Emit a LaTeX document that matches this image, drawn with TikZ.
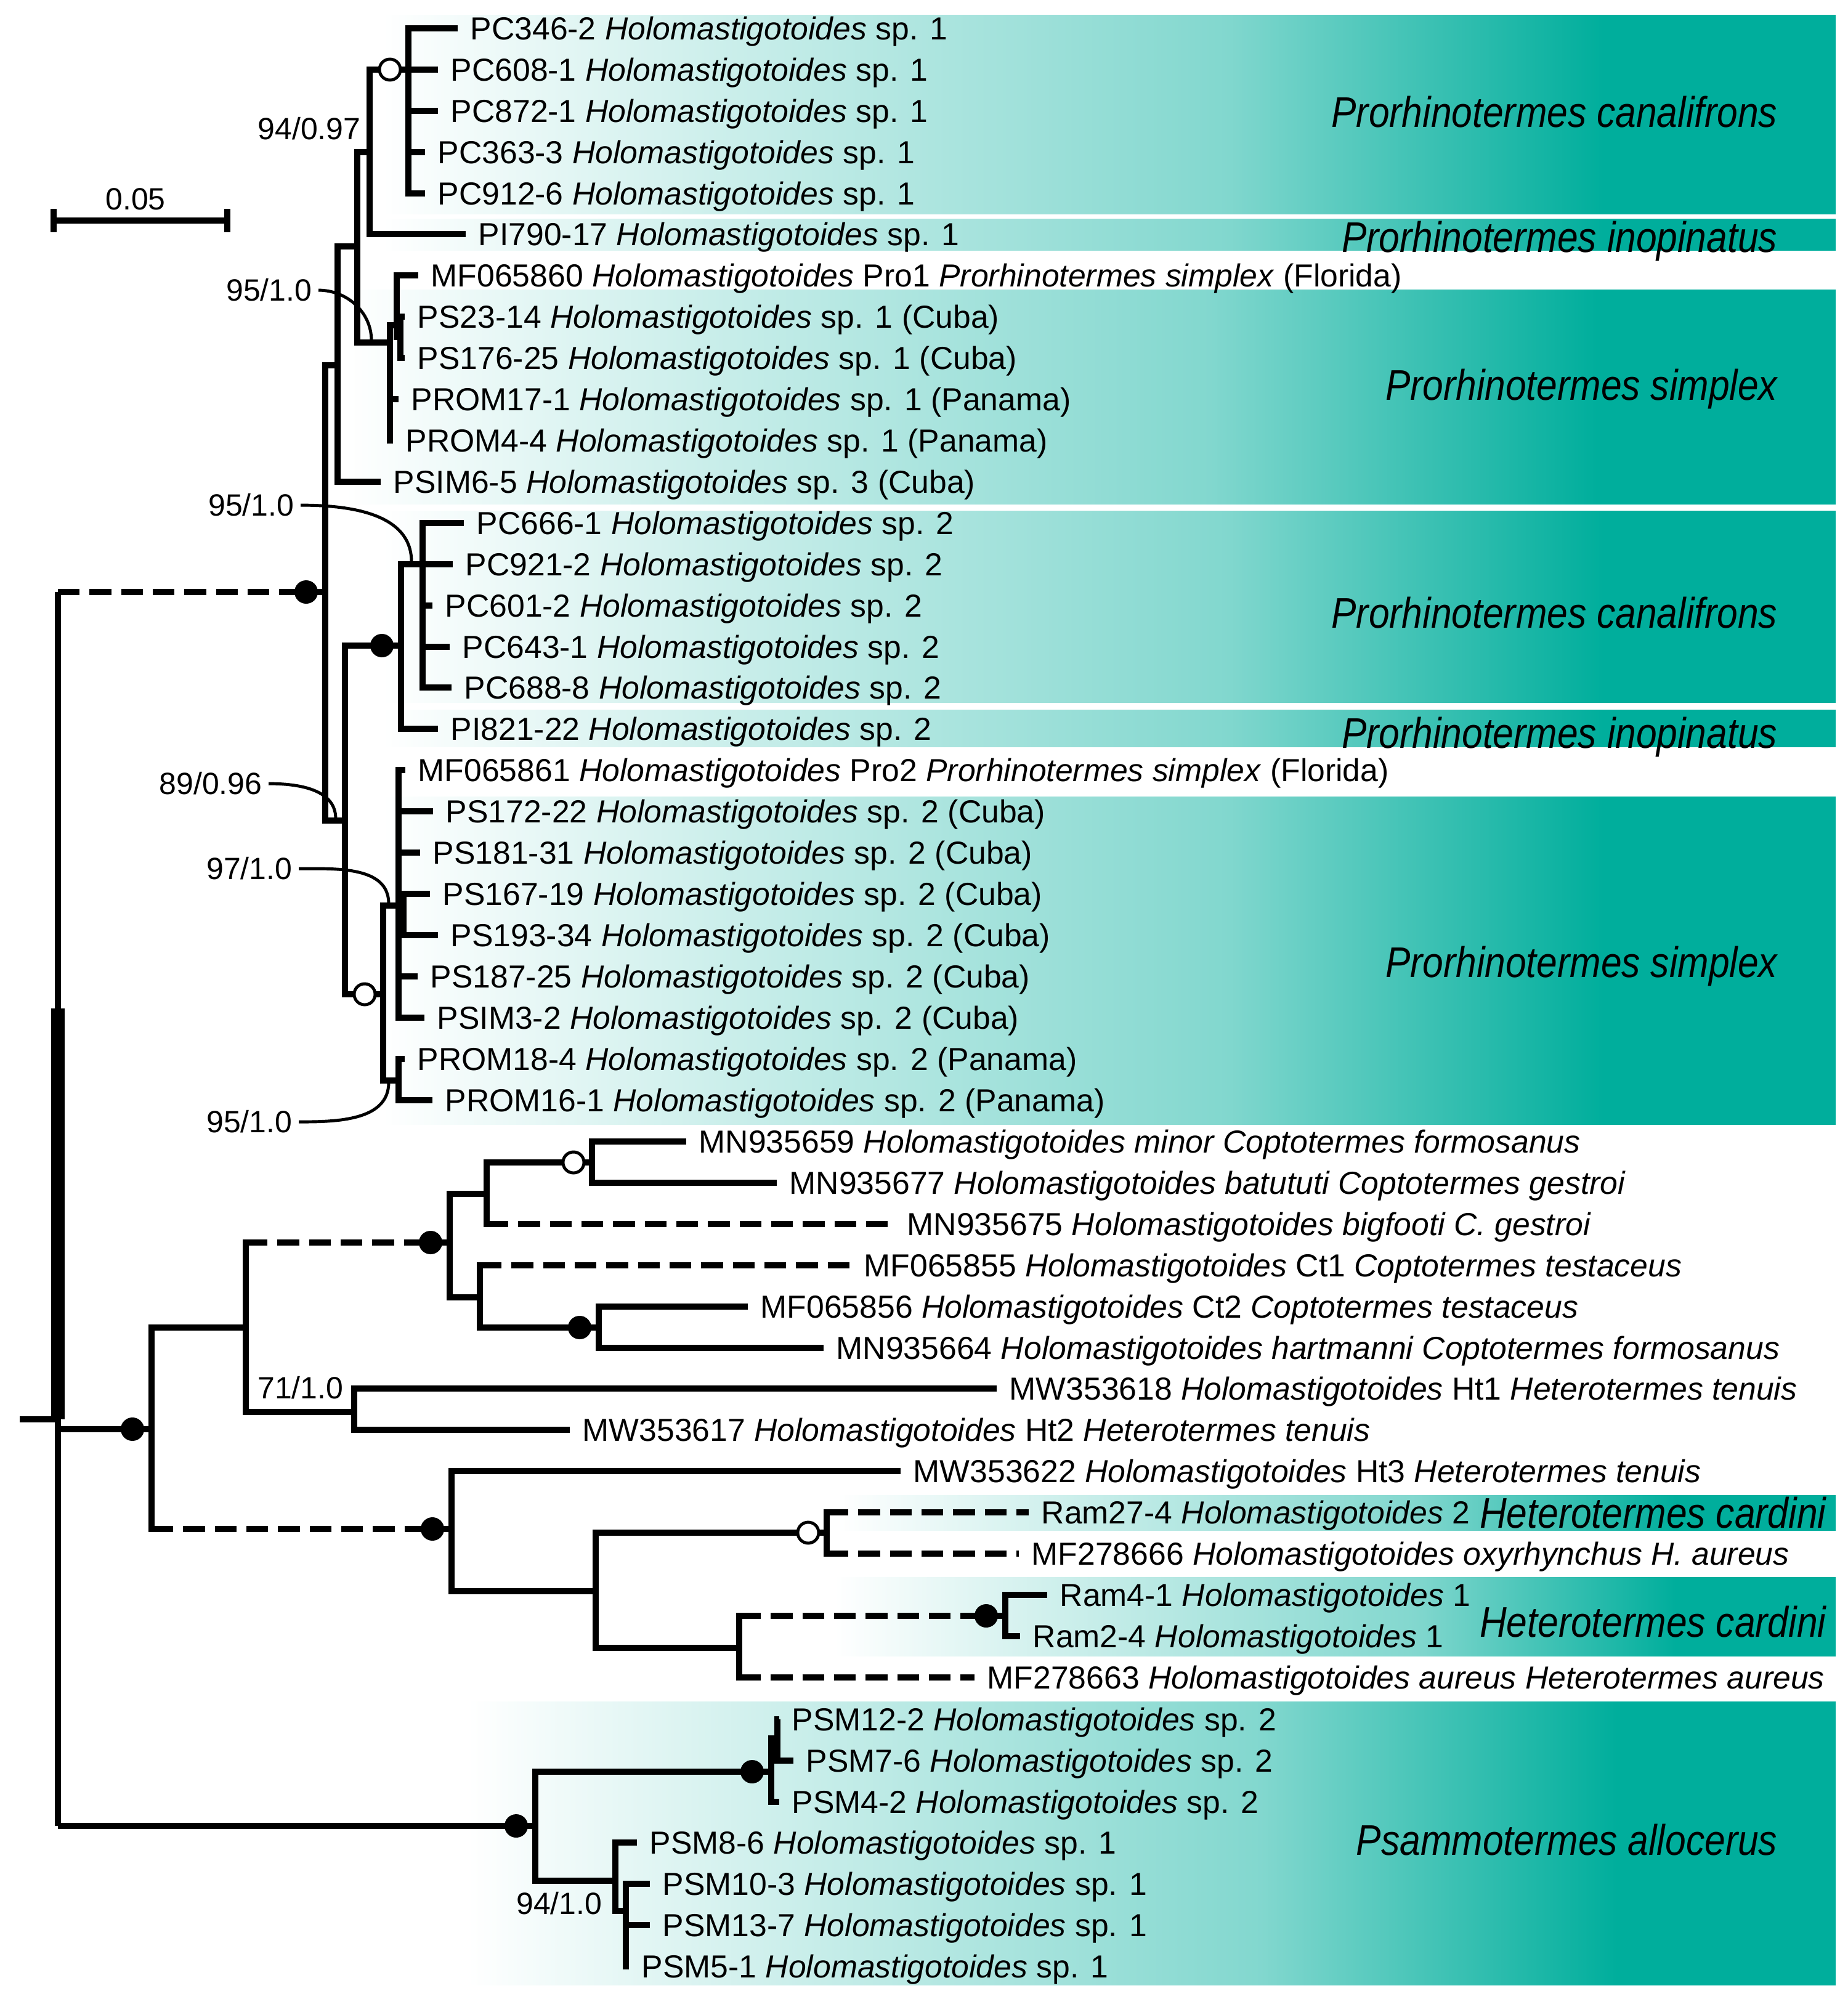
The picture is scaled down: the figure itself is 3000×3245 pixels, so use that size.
\documentclass[tikz,border=0pt]{standalone}
\usepackage{fontspec}
\setmainfont{Liberation Sans}
\newfontfamily\cladefont[FakeStretch=0.87]{Liberation Sans}
\usetikzlibrary{calc}
\definecolor{tl}{HTML}{00AE9C}
\pgfdeclarehorizontalshading{bandfade}{100bp}{color(0bp)=(white); color(25bp)=(white); color(33bp)=(tl!14); color(54bp)=(tl!49); color(67bp)=(tl); color(100bp)=(tl)}
\newcommand\leaffont{\fontsize{14.7}{17}\selectfont}
\newcommand\suppfont{\fontsize{14.2}{17}\selectfont}
\newcommand\holo{\textit{Holomastigotoides}}
\newcommand\leafat[4]{\coordinate (#1) at (#2,#3); \node[leaf] (#1-t) at (#1) {#4};}
\tikzset{
  br/.style={line width=3pt},
  dbr/.style={line width=3pt, dash pattern=on 10pt off 4.6pt},
  bdot/.style={circle, fill=black, inner sep=0pt, minimum size=0.38cm},
  odot/.style={circle, draw=black, fill=white, line width=1.4pt, inner sep=0pt, minimum size=0.34cm},
  leaf/.style={anchor=base west, inner sep=0pt, xshift=0.2cm, yshift=-5.26pt, font=\leaffont},
  supp/.style={anchor=base east, inner sep=0pt, yshift=-5.1pt, font=\suppfont},
  clade/.style={anchor=base east, inner sep=0pt, yshift=-7.1pt, font=\cladefont\itshape\fontsize{19.8}{23}\selectfont},
  ptr/.style={line width=1.4pt},
  band/.style={shading=bandfade}
}

\begin{document}
\begin{tikzpicture}[x=0.01cm,y=-0.01cm]
  \useasboundingbox (0,0) rectangle (3000,3245);
  % shaded bands
  \shade[band] (620,24) rectangle (2980,347);
  \shade[band] (620,355) rectangle (2980,406);
  \shade[band] (560,470) rectangle (2980,818);
  \shade[band] (620,829) rectangle (2980,1140);
  \shade[band] (620,1152) rectangle (2980,1212);
  \shade[band] (620,1293) rectangle (2980,1825);
  \shade[band] (1360,2427) rectangle (2980,2484);
  \shade[band] (1355,2560) rectangle (2980,2688);
  \shade[band] (760,2762) rectangle (2980,3222);

  % leaves
  \leafat{pc3462}{743}{46}{PC346-2 \holo{} sp. 1}
  \leafat{pc6081}{711}{113}{PC608-1 \holo{} sp. 1}
  \leafat{pc8721}{711}{180}{PC872-1 \holo{} sp. 1}
  \leafat{pc3633}{690}{247}{PC363-3 \holo{} sp. 1}
  \leafat{pc9126}{690}{314}{PC912-6 \holo{} sp. 1}
  \leafat{pi79017}{756}{380}{PI790-17 \holo{} sp. 1}
  \leafat{mf065860}{679}{447}{MF065860 \holo{} Pro1 \textit{Prorhinotermes simplex} (Florida)}
  \leafat{ps2314}{657}{514}{PS23-14 \holo{} sp. 1 (Cuba)}
  \leafat{ps17625}{657}{581}{PS176-25 \holo{} sp. 1 (Cuba)}
  \leafat{prom171}{647}{648}{PROM17-1 \holo{} sp. 1 (Panama)}
  \leafat{prom44}{638}{715}{PROM4-4 \holo{} sp. 1 (Panama)}
  \leafat{psim65}{618}{782}{PSIM6-5 \holo{} sp. 3 (Cuba)}
  \leafat{pc6661}{753}{849}{PC666-1 \holo{} sp. 2}
  \leafat{pc9212}{735}{916}{PC921-2 \holo{} sp. 2}
  \leafat{pc6012}{702}{983}{PC601-2 \holo{} sp. 2}
  \leafat{pc6431}{730}{1050}{PC643-1 \holo{} sp. 2}
  \leafat{pc6888}{733}{1116}{PC688-8 \holo{} sp. 2}
  \leafat{pi82122}{711}{1183}{PI821-22 \holo{} sp. 2}
  \leafat{mf065861}{658}{1250}{MF065861 \holo{} Pro2 \textit{Prorhinotermes simplex} (Florida)}
  \leafat{ps17222}{703}{1317}{PS172-22 \holo{} sp. 2 (Cuba)}
  \leafat{ps18131}{682}{1384}{PS181-31 \holo{} sp. 2 (Cuba)}
  \leafat{ps16719}{698}{1451}{PS167-19 \holo{} sp. 2 (Cuba)}
  \leafat{ps19334}{711}{1518}{PS193-34 \holo{} sp. 2 (Cuba)}
  \leafat{ps18725}{678}{1585}{PS187-25 \holo{} sp. 2 (Cuba)}
  \leafat{psim32}{689}{1652}{PSIM3-2 \holo{} sp. 2 (Cuba)}
  \leafat{prom184}{657}{1719}{PROM18-4 \holo{} sp. 2 (Panama)}
  \leafat{prom161}{702}{1786}{PROM16-1 \holo{} sp. 2 (Panama)}
  \leafat{mn935659}{1114}{1853}{MN935659 \textit{Holomastigotoides minor Coptotermes formosanus}}
  \leafat{mn935677}{1261}{1920}{MN935677 \textit{Holomastigotoides batututi Coptotermes gestroi}}
  \leafat{mn935675}{1452}{1987}{MN935675 \textit{Holomastigotoides bigfooti C. gestroi}}
  \leafat{mf065855}{1382}{2054}{MF065855 \holo{} Ct1 \textit{Coptotermes testaceus}}
  \leafat{mf065856}{1214}{2121}{MF065856 \holo{} Ct2 \textit{Coptotermes testaceus}}
  \leafat{mn935664}{1337}{2188}{MN935664 \textit{Holomastigotoides hartmanni Coptotermes formosanus}}
  \leafat{mw353618}{1618}{2254}{MW353618 \holo{} Ht1 \textit{Heterotermes tenuis}}
  \leafat{mw353617}{925}{2321}{MW353617 \holo{} Ht2 \textit{Heterotermes tenuis}}
  \leafat{mw353622}{1462}{2388}{MW353622 \holo{} Ht3 \textit{Heterotermes tenuis}}
  \leafat{ram274}{1670}{2455}{Ram27-4 \holo{} 2}
  \leafat{mf278666}{1654}{2522}{MF278666 \textit{Holomastigotoides oxyrhynchus H. aureus}}
  \leafat{ram41}{1700}{2589}{Ram4-1 \holo{} 1}
  \leafat{ram24}{1656}{2656}{Ram2-4 \holo{} 1}
  \leafat{mf278663}{1582}{2723}{MF278663 \textit{Holomastigotoides aureus Heterotermes aureus}}
  \leafat{psm122}{1265}{2791}{PSM12-2 \holo{} sp. 2}
  \leafat{psm76}{1288}{2858}{PSM7-6 \holo{} sp. 2}
  \leafat{psm42}{1265}{2925}{PSM4-2 \holo{} sp. 2}
  \leafat{psm86}{1034}{2991}{PSM8-6 \holo{} sp. 1}
  \leafat{psm103}{1055}{3058}{PSM10-3 \holo{} sp. 1}
  \leafat{psm137}{1055}{3125}{PSM13-7 \holo{} sp. 1}
  \leafat{psm51}{1021}{3192}{PSM5-1 \holo{} sp. 1}

  % inner nodes
  \coordinate (stub) at (32,2304);
  \coordinate (rt) at (94,2304);
  \coordinate (c5) at (528,961);
  \coordinate (c4) at (548,593);
  \coordinate (c3) at (580,400);
  \coordinate (c2) at (600,247);
  \coordinate (c1) at (663,113);
  \coordinate (s1) at (633,556);
  \coordinate (s1a) at (644,528);
  \coordinate (s1b) at (650,547);
  \coordinate (c6) at (560,1332);
  \coordinate (c7) at (651,1048);
  \coordinate (c8) at (686,916);
  \coordinate (c9) at (622,1614);
  \coordinate (c10) at (647,1470);
  \coordinate (c10b) at (655,1485);
  \coordinate (c11) at (647,1754);
  \coordinate (L) at (246,2320);
  \coordinate (M) at (399,2155);
  \coordinate (P) at (730,2017);
  \coordinate (P1) at (790,1938);
  \coordinate (P1a) at (961,1887);
  \coordinate (P2) at (779,2106);
  \coordinate (P2a) at (972,2155);
  \coordinate (Q) at (575,2292);
  \coordinate (N) at (733,2482);
  \coordinate (N2) at (967,2583);
  \coordinate (N2a) at (1342,2488);
  \coordinate (N2b) at (1200,2675);
  \coordinate (N2c) at (1632,2623);
  \coordinate (R) at (869,2964);
  \coordinate (R1) at (1252,2876);
  \coordinate (R1a) at (1262,2822);
  \coordinate (R2) at (999,3053);
  \coordinate (R3) at (1016,3102);

  % root
  \draw[br] (stub) -- (rt);
  \draw[br] (rt |- c5) -- (rt |- R);
  \draw[line width=6pt] (94,1637) -- (rt);
  \draw[dbr] (rt |- c5) -- (c5);
  \draw[br] (rt |- L) -- (L);
  \draw[br] (rt |- R) -- (R);

  % branches
  \foreach \p/\c in {c5/c4, c4/c3, c4/psim65, c3/c2, c3/s1, c2/c1, c2/pi79017,
      c1/pc3462, c1/pc6081, c1/pc8721, c1/pc3633, c1/pc9126,
      s1/s1a, s1/prom171, s1/prom44, s1a/mf065860, s1a/s1b, s1b/ps2314, s1b/ps17625,
      c5/c6, c6/c7, c6/c9, c7/c8, c7/pi82122,
      c8/pc6661, c8/pc9212, c8/pc6012, c8/pc6431, c8/pc6888,
      c9/c10, c9/c11, c10/mf065861, c10/ps17222, c10/ps18131, c10/c10b, c10/ps18725, c10/psim32,
      c10b/ps16719, c10b/ps19334, c11/prom184, c11/prom161,
      L/M, M/Q, P/P1, P/P2, P1/P1a, P1a/mn935659, P1a/mn935677, P2/P2a,
      P2a/mf065856, P2a/mn935664, Q/mw353618, Q/mw353617,
      N/mw353622, N/N2, N2/N2a, N2/N2b, N2c/ram41, N2c/ram24,
      R/R1, R/R2, R1/R1a, R1/psm42, R1a/psm122, R1a/psm76,
      R2/psm86, R2/R3, R3/psm103, R3/psm137, R3/psm51}
    \draw[br] (\p) |- (\c);
  \foreach \p/\c in {M/P, L/N, P1/mn935675, P2/mf065855, N2a/ram274, N2a/mf278666, N2b/N2c, N2b/mf278663} {
    \draw[br, line cap=rect] (\p) -- (\p |- \c);
    \draw[dbr] (\p |- \c) -- (\c);
  }

  % support dots
  \foreach \n in {c5, c7, P, L, N, P2a, N2c, R, R1}
    \node[bdot] at ([xshift=-0.31cm]\n) {};
  \foreach \n in {c1, c9, P1a, N2a}
    \node[odot] at ([xshift=-0.3cm]\n) {};

  % support values
  \node[supp] (s9497) at (586,209) {94/0.97};
  \node[supp] (s951a) at (507,471) {95/1.0};
  \node[supp] (s951b) at (478,820) {95/1.0};
  \node[supp] (s8996) at (426,1272) {89/0.96};
  \node[supp] (s971) at (475,1410) {97/1.0};
  \node[supp] (s951c) at (475,1821) {95/1.0};
  \node[supp] (s711) at (558,2253) {71/1.0};
  \node[supp] (s941) at (978,3090) {94/1.0};
  \coordinate (q1) at (603,553);
  \coordinate (q2) at (668,912);
  \coordinate (q3) at (545,1329);
  \coordinate (q4) at (631,1467);
  \coordinate (q5) at (631,1757);
  \draw[ptr] ([xshift=0.1cm]s951a.east) to[out=0,in=90] (q1);
  \draw[ptr] ([xshift=0.1cm]s951b.east) to[out=0,in=90] (q2);
  \draw[ptr] ([xshift=0.1cm]s8996.east) to[out=0,in=90] (q3);
  \draw[ptr] ([xshift=0.1cm]s971.east) to[out=0,in=90] (q4);
  \draw[ptr] ([xshift=0.1cm]s951c.east) to[out=0,in=-90] (q5);

  % scale bar
  \coordinate (sb1) at (87,358);
  \coordinate (sb2) at (369,358);
  \draw[br] (sb1) -- (sb2);
  \draw[br] (sb1) ++(0,-19) -- ++(0,38);
  \draw[br] (sb2) ++(0,-19) -- ++(0,38);
  \node[font=\suppfont, anchor=base, inner sep=0pt] (sbl) at (220,340) {0.05};

  % clade names
  \node[clade] (cl1) at (2886,182) {Prorhinotermes canalifrons};
  \node[clade] (cl2) at (2886,385) {Prorhinotermes inopinatus};
  \node[clade] (cl3) at (2886,625) {Prorhinotermes simplex};
  \node[clade] (cl4) at (2886,995) {Prorhinotermes canalifrons};
  \node[clade] (cl5) at (2886,1190) {Prorhinotermes inopinatus};
  \node[clade] (cl6) at (2886,1562) {Prorhinotermes simplex};
  \node[clade] (cl7) at (2965,2456) {Heterotermes cardini};
  \node[clade] (cl8) at (2965,2632) {Heterotermes cardini};
  \node[clade] (cl9) at (2886,2986) {Psammotermes allocerus};
\end{tikzpicture}
\end{document}
